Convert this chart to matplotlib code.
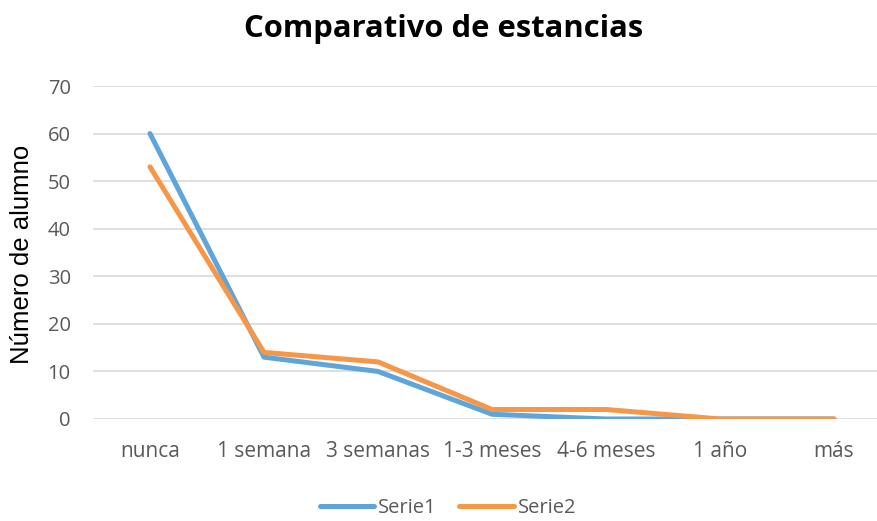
import matplotlib
matplotlib.use("Agg")
import matplotlib.pyplot as plt

categories = ["nunca", "1 semana", "3 semanas", "1-3 meses", "4-6 meses", "1 año", "más"]
serie1 = [60, 13, 10, 1, 0, 0, 0]
serie2 = [53, 14, 12, 2, 2, 0, 0]
yticks = [0, 10, 20, 30, 40, 50, 60, 70]

plt.rcParams['font.family'] = ['Open Sans', 'DejaVu Sans']

fig = plt.figure(figsize=(8.78, 5.21), dpi=100)
ax = fig.add_axes([93/878, 1-419/521, 1-93/878, (419-86)/521])

x = list(range(len(categories)))
ax.plot(x, serie1, color='#5DA5DA', lw=3.6, solid_capstyle='round', solid_joinstyle='round', label='Serie1', zorder=3)
ax.plot(x, serie2, color='#F79646', lw=3.6, solid_capstyle='round', solid_joinstyle='round', label='Serie2', zorder=4)

ax.set_xlim(-0.5, (878-150)/114)
ax.set_ylim(0, 70)
ax.set_yticks(yticks)
ax.set_xticks(x)
ax.set_xticklabels(categories)
ax.grid(axis='y', color='#D9D9D9', lw=1.2)
ax.set_axisbelow(True)
for s in ax.spines.values():
    s.set_visible(False)
ax.tick_params(length=0, labelsize=14.5, colors='#595959')
ax.tick_params(axis='x', labelsize=15, pad=16)
ax.tick_params(axis='y', pad=16)

fig.text(22/878, 1-254/521, "Número de alumno", rotation=90, ha='center', va='center',
         fontsize=18.5, color='#000000', family=['Liberation Sans', 'DejaVu Sans'])
fig.text(444/878, 1-29/521, "Comparativo de estancias", ha='center', va='center',
         fontsize=22.3, fontweight='bold', color='#000000')

leg = fig.legend(loc='center', bbox_to_anchor=(448/878, 1-508/521), ncol=2, frameon=False,
                 fontsize=14.5, handlelength=2.7, handletextpad=0.2, columnspacing=1.1)
for t in leg.get_texts():
    t.set_color('#595959')

fig.savefig("out.png", dpi=100)
